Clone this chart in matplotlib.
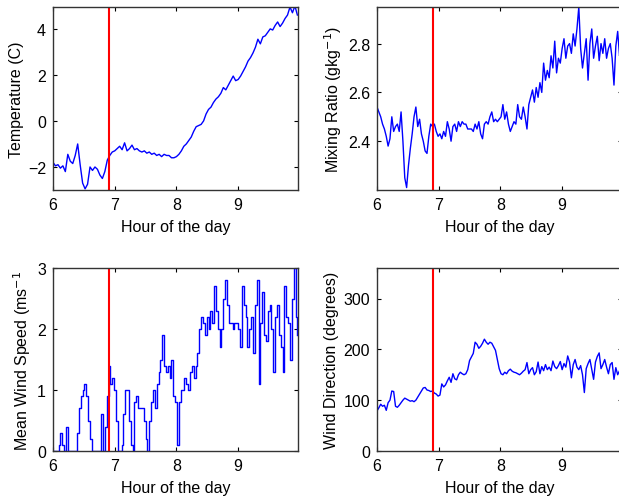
import numpy as np
import matplotlib
matplotlib.use('Agg')
import matplotlib.pyplot as plt

plt.rcParams['font.family'] = ['Liberation Sans', 'DejaVu Sans']
plt.rcParams['font.size'] = 11.5

# time of the cutoff marker (hour of the day)
t_mark = 6.9

temperature = [
    -1.8, -1.95, -1.9, -2.05, -1.95, -2.2, -1.45, -1.75, -1.85, -1.5,
    -1.0, -1.9, -2.7, -2.95, -2.75, -2.0, -2.15, -2.0, -2.1, -2.35,
    -2.5, -2.2, -1.7, -1.5, -1.35, -1.3, -1.2, -1.1, -1.25, -0.95,
    -1.3, -1.2, -1.05, -1.25, -1.2, -1.3, -1.35, -1.3, -1.4, -1.35,
    -1.45, -1.4, -1.5, -1.45, -1.55, -1.45, -1.5, -1.5, -1.6, -1.6,
    -1.55, -1.45, -1.3, -1.1, -1.0, -0.85, -0.7, -0.45, -0.25, -0.2,
    -0.15, 0.0, 0.3, 0.5, 0.6, 0.8, 0.95, 1.05, 1.2, 1.45,
    1.35, 1.55, 1.75, 1.95, 1.75, 1.8, 1.95, 2.15, 2.35, 2.6,
    2.75, 2.95, 3.2, 3.55, 3.35, 3.65, 3.7, 3.85, 4.0, 3.95,
    4.15, 4.3, 4.1, 4.25, 4.45, 4.6, 4.95, 4.7, 5.0, 4.6,
]

mixing_ratio = [
    2.54, 2.52, 2.50, 2.47, 2.45, 2.42, 2.38, 2.41, 2.50, 2.44,
    2.46, 2.47, 2.44, 2.52, 2.40, 2.25, 2.21, 2.30, 2.37, 2.43,
    2.50, 2.54, 2.46, 2.49, 2.43, 2.40, 2.36, 2.35, 2.42, 2.47,
    2.46, 2.47, 2.44, 2.42, 2.43, 2.41, 2.44, 2.42, 2.48, 2.45,
    2.40, 2.46, 2.47, 2.44, 2.48, 2.46, 2.48, 2.47, 2.47, 2.45,
    2.45, 2.45, 2.44, 2.47, 2.45, 2.48, 2.43, 2.41, 2.47, 2.48,
    2.47, 2.50, 2.52, 2.48, 2.49, 2.48, 2.49, 2.50, 2.55, 2.49,
    2.52, 2.47, 2.44, 2.46, 2.48, 2.47, 2.55, 2.50, 2.49, 2.54,
    2.50, 2.45, 2.55, 2.58, 2.61, 2.56, 2.62, 2.58, 2.64, 2.60,
    2.72, 2.65, 2.69, 2.66, 2.75, 2.70, 2.81, 2.68, 2.74, 2.72,
    2.78, 2.82, 2.74, 2.79, 2.80, 2.76, 2.84, 2.79, 2.86, 2.95,
    2.78, 2.70, 2.76, 2.82, 2.65, 2.80, 2.86, 2.74, 2.79, 2.83,
    2.73, 2.80, 2.76, 2.82, 2.74, 2.78, 2.80, 2.74, 2.63, 2.79,
    2.85, 2.75, 2.80,
]

wind_speed = [
    0.0, 0.0, 0.0, 0.1, 0.3, 0.1, 0.0, 0.4, 0.0, 0.0,
    0.0, 0.0, 0.0, 0.3, 0.7, 0.9, 1.0, 1.1, 0.9, 0.5,
    0.2, 0.0, 0.0, 0.0, 0.0, 0.0, 0.6, 0.0, 0.4, 0.9,
    1.4, 1.1, 1.2, 1.0, 0.5, 0.0, 0.0, 0.1, 0.6, 1.0,
    1.0, 0.5, 0.1, 0.0, 0.8, 0.9, 0.7, 0.7, 0.7, 0.5,
    0.2, 0.0, 0.5, 0.8, 1.0, 0.7, 1.1, 1.3, 1.5, 1.9,
    1.4, 1.3, 1.4, 1.2, 1.5, 0.9, 0.8, 0.1, 0.8, 1.0,
    1.0, 1.2, 1.1, 1.0, 1.3, 1.4, 1.2, 1.4, 1.6, 2.0,
    2.2, 2.1, 1.9, 2.2, 2.0, 2.3, 2.1, 2.7, 2.3, 2.0,
    1.7, 2.0, 2.5, 2.8, 2.4, 2.1, 2.1, 2.0, 2.1, 2.1,
    2.0, 1.7, 2.7, 2.4, 2.2, 1.7, 2.0, 2.2, 1.6, 2.4,
    2.8, 1.1, 2.1, 2.6, 1.9, 1.8, 2.3, 2.4, 2.0, 1.3,
    2.2, 2.4, 1.9, 1.7, 1.3, 2.7, 2.2, 2.1, 1.5, 2.5,
    3.0, 2.2, 1.9,
]

wind_dir = [
    79, 85, 92, 88, 90, 80, 95, 100, 118, 117,
    88, 86, 90, 95, 100, 104, 102, 100, 98, 99,
    97, 100, 106, 112, 118, 124, 125, 120, 119, 117,
    118, 114, 112, 108, 110, 132, 126, 130, 138, 145,
    135, 152, 142, 140, 150, 155, 152, 150, 152, 160,
    178, 185, 192, 214, 210, 202, 206, 212, 220, 214,
    210, 214, 212, 205, 198, 180, 162, 152, 150, 155,
    152, 158, 161, 157, 155, 154, 152, 150, 153, 157,
    160, 174, 152, 160, 164, 150, 156, 175, 152, 166,
    158, 170, 160, 165, 158, 177, 166, 162, 168, 176,
    160, 172, 165, 187, 175, 144, 170, 180, 165, 160,
    168, 150, 115, 162, 172, 180, 160, 141, 175, 186,
    193, 162, 170, 180, 165, 152, 170, 174, 141, 164,
    150, 158, 152,
]

t_temp = np.linspace(6, 9.96, len(temperature))
t_mr = np.linspace(6, 9.96, len(mixing_ratio))
t_ws = np.linspace(6, 9.96, len(wind_speed))
t_wd = np.linspace(6, 9.96, len(wind_dir))

W, H = 619, 502
fig = plt.figure(figsize=(W / 100, H / 100), dpi=100)


def make_ax(left, top, right, bottom):
    return fig.add_axes([left / W, 1 - bottom / H, (right - left) / W, (bottom - top) / H])


panels = [
    (make_ax(53, 8, 298, 191), t_temp, temperature, (-3, 4.95), [-2, 0, 2, 4],
     'Temperature (C)', None),
    (make_ax(377, 8, 622, 191), t_mr, mixing_ratio, (2.2, 2.95), [2.4, 2.6, 2.8],
     'Mixing Ratio (gkg$^{-1}$)', None),
    (make_ax(53, 269, 298, 452), t_ws, wind_speed, (0, 3), [0, 1, 2, 3],
     'Mean Wind Speed (ms$^{-1}$', 'steps-post'),
    (make_ax(377, 269, 622, 452), t_wd, wind_dir, (0, 360), [0, 100, 200, 300],
     'Wind Direction (degrees)', None),
]

for ax, t, vals, ylim, yticks, ylabel, ds in panels:
    if ds:
        ax.plot(t, vals, color='#0000ff', lw=1.0, drawstyle=ds)
    else:
        ax.plot(t, vals, color='#0000ff', lw=1.0)
    ax.axvline(t_mark, color='#ff0000', lw=1.5)
    ax.set_xlim(6, 9.97)
    ax.set_ylim(*ylim)
    ax.set_xticks([6, 7, 8, 9])
    ax.set_yticks(yticks)
    ax.tick_params(direction='in', top=True, right=True, length=3, width=0.8, pad=5)
    ax.set_xlabel('Hour of the day', labelpad=5)
    ax.set_ylabel(ylabel, labelpad=3)
    for s in ax.spines.values():
        s.set_color('#333333')
        s.set_linewidth(1.0)

fig.savefig('out.png', dpi=100)
